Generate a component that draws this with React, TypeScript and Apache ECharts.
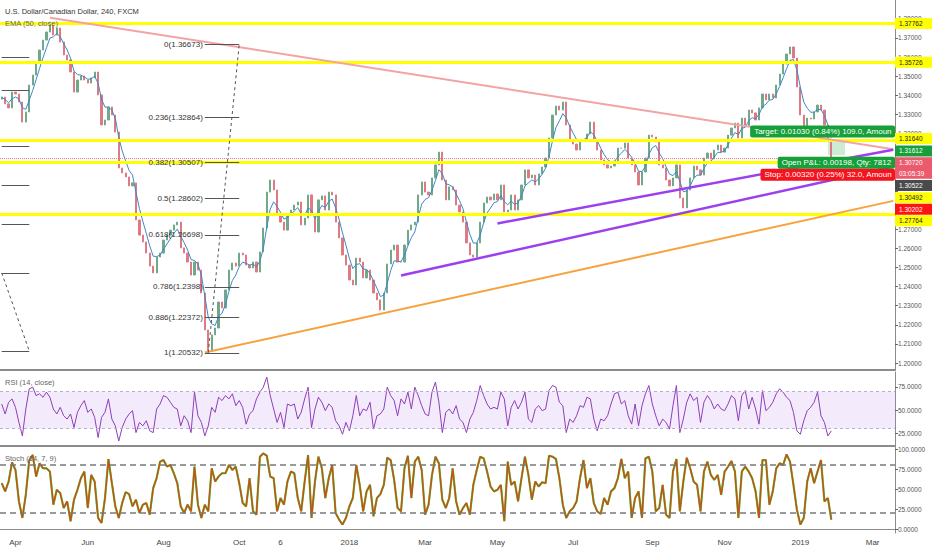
import React, { useEffect, useRef } from "react";
import * as echarts from "echarts";

// ---- data (one close per 2-weekday bucket, starting 2017-03-22) ----
const firstOpen = 1.338;
const closes = [
  1.3391, 1.3355, 1.3334, 1.3417, 1.3407, 1.3365, 1.326, 1.3313, 1.3454, 1.3506,
  1.3574, 1.3637, 1.3689, 1.3731, 1.3783, 1.3715, 1.3752, 1.3679, 1.3611, 1.3585,
  1.3522, 1.3417, 1.348, 1.3501, 1.348, 1.3464, 1.3491, 1.3522, 1.3402, 1.3245,
  1.3271, 1.3339, 1.3297, 1.3208, 1.302, 1.2994, 1.2973, 1.2926, 1.2942, 1.2748,
  1.2669, 1.2633, 1.2575, 1.2507, 1.2471, 1.2554, 1.2575, 1.2643, 1.2669, 1.2695,
  1.2722, 1.2737, 1.2602, 1.2575, 1.2528, 1.246, 1.2528, 1.2486, 1.2366, 1.2173,
  1.206, 1.2147, 1.2183, 1.2319, 1.2288, 1.2382, 1.2486, 1.2523, 1.2507, 1.2575,
  1.2565, 1.2512, 1.2497, 1.2528, 1.2476, 1.2581, 1.2706, 1.2894, 1.2957, 1.2905,
  1.2779, 1.2737, 1.2695, 1.2779, 1.28, 1.2826, 1.2842, 1.2722, 1.2758, 1.2879,
  1.2774, 1.2685, 1.2853, 1.2874, 1.28, 1.2894, 1.2879, 1.2737, 1.2654, 1.2565,
  1.2512, 1.2434, 1.2408, 1.2549, 1.2528, 1.2445, 1.2486, 1.2434, 1.2366, 1.233,
  1.2277, 1.2366, 1.2518, 1.2591, 1.2617, 1.2528, 1.2528, 1.2617, 1.2695, 1.2722,
  1.2737, 1.2879, 1.2947, 1.2894, 1.2879, 1.2968, 1.3036, 1.3103, 1.2957, 1.2853,
  1.2921, 1.2905, 1.2826, 1.279, 1.2737, 1.2628, 1.2565, 1.2554, 1.2628, 1.2737,
  1.2837, 1.2868, 1.2853, 1.2884, 1.2853, 1.2931, 1.279, 1.28, 1.2879, 1.28,
  1.2853, 1.2931, 1.301, 1.2968, 1.2983, 1.2931, 1.2989, 1.3025, 1.3072, 1.3177,
  1.3297, 1.3344, 1.3323, 1.3365, 1.3245, 1.3166, 1.3145, 1.3114, 1.3166, 1.3166,
  1.3198, 1.326, 1.3166, 1.3114, 1.3062, 1.3036, 1.302, 1.303, 1.3056, 1.3124,
  1.3124, 1.3151, 1.3072, 1.3036, 1.2999, 1.2931, 1.2999, 1.3072, 1.3192, 1.3182,
  1.3156, 1.3036, 1.302, 1.2957, 1.2926, 1.2968, 1.3036, 1.2863, 1.2811, 1.2905,
  1.2968, 1.303, 1.301, 1.2983, 1.3072, 1.3098, 1.3067, 1.3114, 1.314, 1.3103,
  1.3124, 1.3192, 1.3229, 1.3255, 1.3177, 1.3281, 1.324, 1.3323, 1.3308, 1.3271,
  1.3334, 1.3407, 1.3376, 1.3407, 1.3386, 1.3454, 1.3511, 1.3564, 1.3616, 1.3653,
  1.3595, 1.3443, 1.3297, 1.324, 1.3281, 1.3276, 1.3313, 1.3349, 1.3323, 1.3245,
  1.3166, 1.3072,
];

const rsiValues = [
  56.5, 45.7, 58.4, 62.0, 52.9, 36.6, 22.0, 51.1, 72.9, 74.7,
  65.6, 67.5, 63.8, 69.3, 63.8, 51.1, 45.7, 52.9, 43.8, 40.2,
  45.7, 31.1, 47.5, 54.7, 60.2, 47.5, 51.1, 42.0, 20.2, 42.0,
  47.5, 62.0, 40.2, 32.9, 16.5, 31.1, 40.2, 45.7, 49.3, 25.6,
  36.6, 32.9, 38.4, 27.5, 25.6, 51.1, 56.5, 65.6, 63.8, 58.4,
  52.9, 51.1, 32.9, 43.8, 38.4, 25.6, 69.3, 43.8, 36.6, 22.0,
  32.9, 52.9, 47.5, 63.8, 60.2, 65.6, 62.0, 67.5, 54.7, 60.2,
  52.9, 34.7, 45.7, 49.3, 62.0, 69.3, 74.7, 85.6, 65.6, 51.1,
  36.6, 47.5, 31.1, 56.5, 54.7, 56.5, 40.2, 47.5, 62.0, 74.7,
  31.1, 51.1, 63.8, 58.4, 49.3, 56.5, 52.9, 38.4, 32.9, 23.8,
  36.6, 27.5, 43.8, 65.6, 43.8, 51.1, 49.3, 58.4, 29.3, 43.8,
  45.7, 51.1, 74.7, 65.6, 60.2, 43.8, 62.0, 56.5, 69.3, 51.1,
  74.7, 65.6, 54.7, 45.7, 43.8, 69.3, 80.2, 58.4, 25.6, 47.5,
  51.1, 45.7, 54.7, 40.2, 36.6, 25.6, 40.2, 47.5, 60.2, 76.5,
  65.6, 56.5, 51.1, 52.9, 51.1, 69.3, 62.0, 32.9, 52.9, 60.2,
  51.1, 58.4, 69.3, 40.2, 36.6, 51.1, 54.7, 49.3, 51.1, 71.1,
  76.5, 74.7, 58.4, 54.7, 25.6, 40.2, 36.6, 43.8, 54.7, 52.9,
  63.8, 62.0, 40.2, 27.5, 40.2, 38.4, 43.8, 56.5, 67.5, 69.3,
  56.5, 60.2, 43.8, 34.7, 56.5, 32.9, 54.7, 67.5, 76.5, 56.5,
  43.8, 32.9, 40.2, 36.6, 29.3, 54.7, 76.5, 25.6, 40.2, 58.4,
  67.5, 60.2, 63.8, 36.6, 58.4, 65.6, 60.2, 51.1, 56.5, 51.1,
  49.3, 56.5, 65.6, 62.0, 38.4, 65.6, 71.1, 51.1, 63.8, 51.1,
  34.7, 71.1, 49.3, 52.9, 58.4, 67.5, 72.9, 69.3, 63.8, 60.2,
  47.5, 27.5, 23.8, 38.4, 49.3, 52.9, 58.4, 69.3, 43.8, 36.6,
  22.0, 27.5,
];

const stochValues = [
  57.3, 47.0, 59.3, 83.3, 73.8, 34.5, 13.8, 42.8, 86.2, 92.5,
  65.6, 82.1, 75.9, 75.9, 71.8, 30.4, 49.0, 44.9, 26.2, 34.5,
  9.7, 36.6, 49.0, 63.5, 71.8, 26.2, 67.6, 59.3, 13.8, 7.6,
  38.7, 87.5, 57.3, 28.3, 13.8, 32.5, 46.1, 43.6, 28.3, 36.6,
  20.0, 30.4, 32.5, 17.9, 51.1, 63.5, 84.2, 86.2, 78.0, 80.0,
  69.7, 57.3, 28.3, 20.0, 30.4, 22.1, 78.0, 30.4, 13.8, 30.4,
  22.1, 75.9, 59.3, 65.6, 69.7, 69.7, 80.0, 73.8, 78.0, 57.3,
  32.5, 28.3, 63.5, 22.1, 17.9, 90.4, 94.5, 91.6, 65.6, 63.5,
  22.1, 38.7, 30.4, 59.3, 71.8, 69.7, 38.7, 22.1, 59.3, 92.5,
  13.8, 59.3, 90.4, 75.9, 38.7, 63.5, 80.0, 20.0, 11.8, 5.6,
  13.8, 28.3, 38.7, 80.0, 55.2, 22.1, 47.0, 55.2, 15.9, 38.7,
  43.6, 55.2, 89.1, 86.2, 61.4, 26.2, 22.1, 75.9, 91.6, 38.7,
  84.2, 90.4, 73.8, 17.9, 30.4, 67.6, 90.4, 82.1, 36.6, 26.2,
  38.7, 75.9, 34.5, 17.9, 26.2, 32.5, 17.9, 55.2, 73.8, 90.4,
  88.3, 71.8, 53.1, 47.0, 49.0, 55.2, 9.7, 84.2, 55.2, 59.3,
  34.5, 63.5, 90.4, 67.6, 36.6, 59.3, 53.1, 58.5, 57.3, 91.6,
  90.4, 87.5, 63.5, 30.4, 13.8, 22.1, 26.2, 34.5, 63.5, 86.2,
  51.1, 63.5, 32.5, 22.1, 18.8, 38.7, 30.4, 47.0, 51.1, 63.5,
  87.5, 63.5, 71.8, 13.8, 38.7, 47.0, 13.8, 88.3, 90.4, 71.8,
  22.1, 26.2, 55.2, 17.9, 13.8, 71.8, 87.5, 22.1, 59.3, 89.1,
  75.9, 59.3, 55.2, 22.1, 71.8, 84.2, 67.6, 61.4, 67.6, 42.8,
  71.8, 78.0, 85.0, 71.8, 13.8, 71.8, 78.0, 71.8, 63.5, 47.0,
  13.8, 86.2, 86.2, 30.4, 47.0, 75.9, 82.1, 80.0, 93.3, 84.2,
  55.2, 24.2, 5.6, 13.8, 59.3, 75.9, 57.3, 71.8, 86.2, 34.5,
  38.7, 11.8,
];

const priceTicks = [1.2, 1.21, 1.22, 1.23, 1.24, 1.25, 1.26, 1.27, 1.28, 1.29, 1.3, 1.31, 1.32, 1.33, 1.34, 1.35, 1.36, 1.37, 1.38];
// labels fully hidden behind the price tags in the reference are left out
const priceLabelTicks = [1.2, 1.21, 1.22, 1.23, 1.24, 1.25, 1.26, 1.27, 1.32, 1.33, 1.34, 1.35, 1.36, 1.37, 1.38];
const rsiTicks = [25, 50, 75];
const stochTicks = [0, 25, 50, 75, 100];

const tickDates = ["2017-04-03", "2017-06-01", "2017-08-01", "2017-10-02", "2017-11-06", "2018-01-01", "2018-03-01", "2018-05-01", "2018-07-02", "2018-09-03", "2018-11-01", "2019-01-01", "2019-03-01"];
const tickLabels = ["Apr", "Jun", "Aug", "Oct", "6", "2018", "Mar", "May", "Jul", "Sep", "Nov", "2019", "Mar"];

const yellowLevels = [1.37762, 1.35726, 1.3164, 1.30492, 1.27764];
const lastPrice = 1.3072;

const fibRatios = ["0", "0.236", "0.382", "0.5", "0.618", "0.786", "0.886", "1"];
const fibPrices = [1.36673, 1.32864, 1.30507, 1.28602, 1.26698, 1.2398, 1.22372, 1.20532];
const fibSpan = [59, 69];
const leftFibPrices = [1.36, 1.3428, 1.3135, 1.2931, 1.2727, 1.2471, 1.2063];
const leftFibSpan = [0, 8];

const trendLines = [
  { from: [14, 1.3806], to: [259, 1.3118], color: "#f4a3a3", width: 2 },
  { from: [59, 1.2055], to: [259, 1.2848], color: "#f8a23e", width: 2 },
  { from: [116, 1.2458], to: [259, 1.3028], color: "#9b3ff0", width: 2.5 },
  { from: [144, 1.273], to: [259, 1.3115], color: "#9b3ff0", width: 2.5 },
];
const dashedLines = [
  { from: [60, 1.20532], to: [69, 1.36673] },
  { from: [0, 1.2471], to: [8, 1.2063] },
];
const positionZone = { from: [240, 1.3166], to: [245, 1.3088] };

const axisTags = [
  { text: "1.37762", value: 1.37762, bg: "#ffff00", fg: "#222", shift: 0 },
  { text: "1.35726", value: 1.35726, bg: "#ffff00", fg: "#222", shift: 0 },
  { text: "1.31640", value: 1.3164, bg: "#ffff00", fg: "#222", shift: -2 },
  { text: "1.31612", value: 1.31612, bg: "#17a03a", fg: "#fff", shift: 10 },
  { text: "1.30720", value: 1.3072, bg: "#eb5a6d", fg: "#fff", shift: 4.7 },
  { text: "03:05:39", value: 1.3072, bg: "#eb5a6d", fg: "#fff", shift: 15.3 },
  { text: "1.30522", value: 1.30522, bg: "#4a4a4a", fg: "#fff", shift: 23.8 },
  { text: "1.30492", value: 1.30492, bg: "#ffff00", fg: "#222", shift: 35.3 },
  { text: "1.30202", value: 1.30202, bg: "#ff1414", fg: "#fff", shift: 41.3 },
  { text: "1.27764", value: 1.27764, bg: "#ffff00", fg: "#222", shift: 6.1 },
];

const tradeBoxes = [
  { text: "Target: 0.01030 (0.84%) 109.0, Amount", k: 218, price: 1.3211, bg: "#15a039" },
  { text: "Open P&L: 0.00198, Qty: 7812", k: 226, price: 1.3047, bg: "#15a039" },
  { text: "Stop: 0.00320 (0.25%) 32.0, Amount", k: 221, price: 1.2985, bg: "#f5141e" },
];

const BUCKETS = 260;
const FONT = "Liberation Sans, Arial, sans-serif";
const W = 932;
const H = 550;
const AXIS_W = 37;

function buildCategories(): string[] {
  const out: string[] = [];
  const d = new Date(Date.UTC(2017, 2, 22));
  let w = 0;
  while (out.length < BUCKETS) {
    const day = d.getUTCDay();
    if (day !== 0 && day !== 6) {
      if (w % 2 === 0) out.push(d.toISOString().slice(0, 10));
      w++;
    }
    d.setUTCDate(d.getUTCDate() + 1);
  }
  return out;
}

const categories = buildCategories();
const labelByIndex: Record<number, string> = {};
tickDates.forEach((td, i) => {
  let idx = 0;
  for (let k = 0; k < categories.length; k++) if (categories[k] <= td) idx = k;
  labelByIndex[idx] = tickLabels[i];
});

function buildOption(): any {
  const candles = closes.map((c, i) => {
    const o = i === 0 ? firstOpen : closes[i - 1];
    return [o, c, Math.min(o, c), Math.max(o, c)];
  });
  // EMA(50) of 4h bars expressed on 2-day buckets (12 bars per bucket)
  const alpha = 1 - Math.pow(1 - 2 / 51, 12);
  const ema: number[] = [];
  closes.forEach((c, i) => {
    ema.push(i === 0 ? c : ema[i - 1] + alpha * (c - ema[i - 1]));
  });

  const cat = (k: number) => categories[k];
  const markLines: any[] = [];
  yellowLevels.forEach((v) =>
    markLines.push({ yAxis: v, lineStyle: { color: "#ffff00", width: 3, type: "solid" }, label: { show: false } })
  );
  markLines.push({ yAxis: lastPrice, lineStyle: { color: "#ef7a88", width: 1, type: "dotted" }, label: { show: false } });
  trendLines.forEach((t) =>
    markLines.push([
      { coord: [cat(t.from[0]), t.from[1]], lineStyle: { color: t.color, width: t.width, type: "solid" }, label: { show: false } },
      { coord: [cat(t.to[0]), t.to[1]] },
    ])
  );
  dashedLines.forEach((t) =>
    markLines.push([
      { coord: [cat(t.from[0]), t.from[1]], lineStyle: { color: "#555", width: 1, type: [3, 3] }, label: { show: false } },
      { coord: [cat(t.to[0]), t.to[1]] },
    ])
  );
  fibPrices.forEach((p, i) =>
    markLines.push([
      {
        coord: [cat(fibSpan[0]), p],
        lineStyle: { color: "#555", width: 1, type: "solid" },
        label: {
          show: true,
          position: "start",
          distance: 2,
          formatter: `${fibRatios[i]}(${p.toFixed(i === 5 ? 4 : 5)})`,
          color: "#333",
          fontSize: 8,
          fontFamily: FONT,
        },
      },
      { coord: [cat(fibSpan[1]), p] },
    ])
  );
  leftFibPrices.forEach((p) =>
    markLines.push([
      { coord: [cat(leftFibSpan[0]), p], lineStyle: { color: "#555", width: 1, type: "solid" }, label: { show: false } },
      { coord: [cat(leftFibSpan[1]), p] },
    ])
  );

  const xBase = (gridIndex: number, showLabels: boolean) => ({
    type: "category",
    gridIndex,
    data: categories,
    boundaryGap: true,
    axisLine: { show: true, lineStyle: { color: "#8c8c8c", width: showLabels ? 1 : 2 } },
    axisTick: { show: false },
    axisLabel: showLabels
      ? {
          show: true,
          interval: (index: number) => labelByIndex[index] !== undefined,
          formatter: (_v: string, index: number) => labelByIndex[index] ?? "",
          color: "#444",
          fontSize: 8,
          fontFamily: FONT,
          margin: 5,
        }
      : { show: false },
    splitLine: { show: false },
  });

  const yBase = (gridIndex: number, min: number, max: number, ticks: number[], labels: number[], digits: number) => ({
    type: "value",
    gridIndex,
    position: "right",
    min,
    max,
    scale: true,
    axisLine: { show: true, lineStyle: { color: "#8c8c8c", width: 1 } },
    axisTick: { show: true, length: 3, lineStyle: { color: "#666" }, customValues: ticks },
    axisLabel: {
      show: true,
      customValues: labels,
      formatter: (v: number) => v.toFixed(digits),
      color: "#555",
      fontSize: 6.5,
      fontFamily: FONT,
      margin: 3,
    },
    splitLine: { show: false },
  });

  return {
    animation: false,
    backgroundColor: "#ffffff",
    grid: [
      { left: 0, right: AXIS_W, top: 0, height: 370 },
      { left: 0, right: AXIS_W, top: 372, height: 74 },
      { left: 0, right: AXIS_W, top: 447, height: 86 },
    ],
    xAxis: [xBase(0, false), xBase(1, false), xBase(2, true)],
    yAxis: [
      yBase(0, 1.19634, 1.38985, priceTicks, priceLabelTicks, 5),
      yBase(1, 11.1, 91.1, rsiTicks, rsiTicks, 4),
      yBase(2, -5, 102.5, stochTicks, stochTicks, 4),
    ],
    series: [
      {
        name: "USDCAD",
        type: "candlestick",
        xAxisIndex: 0,
        yAxisIndex: 0,
        data: candles,
        barMaxWidth: 2.4,
        itemStyle: {
          color: "#6fa98a",
          color0: "#e07a82",
          borderColor: "#6fa98a",
          borderColor0: "#e07a82",
          borderWidth: 1,
        },
        markLine: { silent: true, precision: 5, symbol: ["none", "none"], data: markLines, animation: false },
        markArea: {
          silent: true,
          itemStyle: { color: "rgba(110,200,130,0.35)" },
          data: [[{ coord: [cat(positionZone.from[0]), positionZone.from[1]] }, { coord: [cat(positionZone.to[0]), positionZone.to[1]] }]],
        },
      },
      {
        name: "EMA (50, close)",
        type: "line",
        xAxisIndex: 0,
        yAxisIndex: 0,
        data: ema.map((v) => +v.toFixed(5)),
        symbol: "none",
        lineStyle: { color: "#3f86c9", width: 1 },
        z: 3,
      },
      {
        name: "RSI",
        type: "line",
        xAxisIndex: 1,
        yAxisIndex: 1,
        data: rsiValues,
        symbol: "none",
        lineStyle: { color: "#8e3fb8", width: 1 },
        markArea: {
          silent: true,
          itemStyle: { color: "rgba(160,100,225,0.13)" },
          data: [[{ yAxis: 30 }, { yAxis: 70 }]],
        },
        markLine: {
          silent: true,
          precision: 5,
          symbol: ["none", "none"],
          label: { show: false },
          lineStyle: { color: "#b9abd0", width: 1, type: [3, 3] },
          data: [{ yAxis: 70 }, { yAxis: 30 }],
        },
      },
      {
        name: "%K",
        type: "line",
        xAxisIndex: 2,
        yAxisIndex: 2,
        data: stochValues,
        symbol: "none",
        lineStyle: { color: "#3ee63a", width: 2.2 },
        markLine: {
          silent: true,
          precision: 5,
          symbol: ["none", "none"],
          label: { show: false },
          lineStyle: { color: "#7a7a7a", width: 1.6, type: [6, 4] },
          data: [{ yAxis: 80 }, { yAxis: 20 }],
        },
      },
      {
        name: "%D",
        type: "line",
        xAxisIndex: 2,
        yAxisIndex: 2,
        data: stochValues,
        symbol: "none",
        lineStyle: { color: "#c9501e", width: 1.6 },
        z: 3,
      },
    ],
  };
}

function buildGraphics(chart: any): any[] {
  const right = W - AXIS_W;
  const xPix = (k: number) => chart.convertToPixel({ xAxisIndex: 0 }, categories[k]) as number;
  const yPix = (v: number) => chart.convertToPixel({ yAxisIndex: 0 }, v) as number;
  const g: any[] = [];
  const txt = (x: number, y: number, text: string, fill: string, size: number) => ({
    type: "text",
    x,
    y,
    z: 50,
    style: { text, fill, fontSize: size, fontFamily: FONT, verticalAlign: "middle", align: "left" },
  });
  g.push(txt(5, 11, "U.S. Dollar/Canadian Dollar, 240, FXCM", "#333", 7.5));
  g.push(txt(5, 23, "EMA (50, close)", "#666", 7.5));
  g.push(txt(5, 382, "RSI (14, close)", "#666", 7.5));
  g.push(txt(5, 458, "Stoch (14, 7, 9)", "#666", 7.5));

  tradeBoxes.forEach((b) => {
    const x = xPix(b.k) - 2;
    const y = yPix(b.price);
    const w = right - x;
    g.push({ type: "rect", z: 60, shape: { x, y: y - 6, width: w, height: 12, r: 2 }, style: { fill: b.bg } });
    g.push({
      type: "text",
      z: 61,
      x: x + 4,
      y,
      style: {
        text: b.text,
        fill: "#fff",
        fontSize: 8,
        fontFamily: FONT,
        verticalAlign: "middle",
        align: "left",
        width: w - 5,
        overflow: "truncate",
        ellipsis: "",
      },
    });
  });

  axisTags.forEach((t) => {
    const y = yPix(t.value) + t.shift;
    g.push({ type: "rect", z: 70, shape: { x: right, y: y - 5.5, width: AXIS_W, height: 11 }, style: { fill: t.bg } });
    g.push({
      type: "text",
      z: 71,
      x: right + 4,
      y,
      style: { text: t.text, fill: t.fg, fontSize: 6.5, fontFamily: FONT, verticalAlign: "middle", align: "left" },
    });
  });
  return g;
}

export default function App() {
  const ref = useRef<HTMLDivElement>(null);
  useEffect(() => {
    if (!ref.current) return;
    const chart = echarts.init(ref.current, null, { renderer: "svg" });
    chart.setOption(buildOption());
    chart.setOption({ graphic: buildGraphics(chart) });
    return () => chart.dispose();
  }, []);
  return (
    <div
      ref={ref}
      style={{ position: "absolute", left: 0, top: 0, width: W, height: H, background: "#fff" }}
    />
  );
}
